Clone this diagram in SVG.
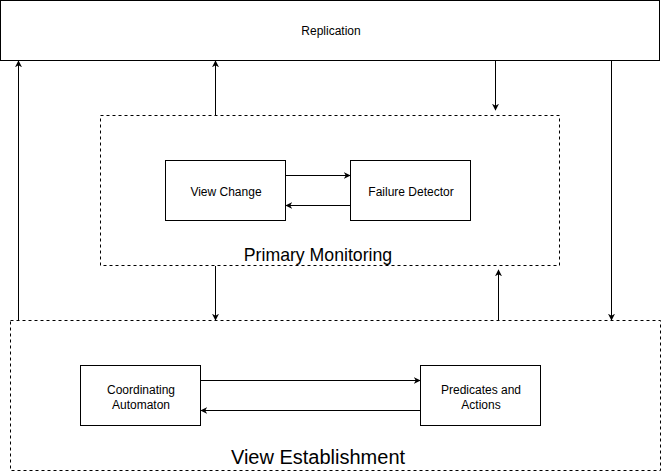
<svg xmlns="http://www.w3.org/2000/svg" width="661" height="471" viewBox="0 0 661 471">
<defs>
<style>
.box{fill:#fff;stroke:#000;stroke-width:1}
.group{fill:none;stroke:#000;stroke-width:1;stroke-dasharray:3 3}
.t{font-family:"Liberation Sans",Arial,sans-serif;font-size:12px;fill:#000;text-anchor:middle}
.big{font-family:"Liberation Sans",Arial,sans-serif;fill:#000;text-anchor:middle}
.c{fill:none;stroke:#000;stroke-width:1;marker-end:url(#a)}
</style>
<marker id="a" viewBox="0 0 10 10" refX="9" refY="5" markerWidth="7" markerHeight="7" orient="auto" markerUnits="userSpaceOnUse">
<path d="M0,0 L10,5 L0,10 L3,5 Z" fill="#000"/>
</marker>
</defs>
<rect width="661" height="471" fill="#fff"/>
<g id="replication">
<rect class="box" x="0.5" y="0.5" width="659" height="60"/>
<text class="t" x="331" y="35">Replication</text>
</g>
<g id="primary-monitoring">
<rect class="group" x="100.5" y="115.5" width="459" height="150"/>
<text class="big" x="318" y="261" font-size="17.7">Primary Monitoring</text>
</g>
<g id="view-change">
<rect class="box" x="165.5" y="160.5" width="120" height="60"/>
<text class="t" x="226" y="196">View Change</text>
</g>
<g id="failure-detector">
<rect class="box" x="350.5" y="160.5" width="120" height="60"/>
<text class="t" x="411" y="196">Failure Detector</text>
</g>
<g id="view-establishment">
<rect class="group" x="10.5" y="320.5" width="650" height="150"/>
<text class="big" x="318" y="464" font-size="20">View Establishment</text>
</g>
<g id="coordinating-automaton">
<rect class="box" x="80.5" y="365.5" width="120" height="60"/>
<text class="t" x="141" y="394">Coordinating</text>
<text class="t" x="141" y="409">Automaton</text>
</g>
<g id="predicates-actions">
<rect class="box" x="420.5" y="365.5" width="120" height="60"/>
<text class="t" x="481" y="394">Predicates and</text>
<text class="t" x="481" y="409">Actions</text>
</g>
<g id="connectors">
<path class="c" d="M18.5,320 L18.5,61"/>
<path class="c" d="M215.5,115 L215.5,61"/>
<path class="c" d="M495.5,61 L495.5,110"/>
<path class="c" d="M611.5,61 L611.5,320"/>
<path class="c" d="M215.5,266 L215.5,320"/>
<path class="c" d="M498.5,320 L498.5,270"/>
<path class="c" d="M286,175.5 L350,175.5"/>
<path class="c" d="M350,205.5 L286,205.5"/>
<path class="c" d="M201,380.5 L420,380.5"/>
<path class="c" d="M420,410.5 L201,410.5"/>
</g>
</svg>
